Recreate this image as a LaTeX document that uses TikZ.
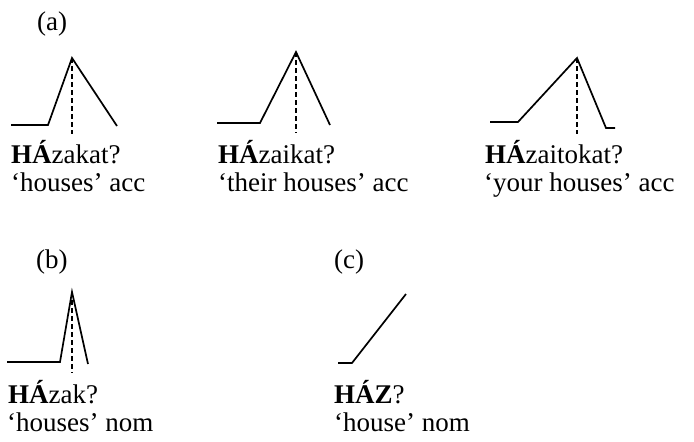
\documentclass[tikz,border=0pt]{standalone}
\usepackage{fontspec}
\setmainfont{Liberation Serif}
\begin{document}
\begin{tikzpicture}[x=1pt,y=-1pt,
  pitch/.style={line width=1.7pt, line join=miter},
  guide/.style={line width=1.5pt, dash pattern=on 4.5pt off 3.5pt},
  word/.style={inner sep=0pt, anchor=base west, font=\fontsize{27}{30}\selectfont}]
\useasboundingbox (0,0) rectangle (694,442);

% ---- (a) accusative forms ----
\node[word] (la) at (37,30) {(a)};

% HAzakat?
\coordinate (a1s) at (11,125);
\coordinate (a1k) at (48,125);
\coordinate (a1p) at (72,58);
\coordinate (a1e) at (117,126);
\coordinate (a1f) at (72,134);
\draw[pitch] (a1s) -- (a1k) -- (a1p) -- (a1e);
\draw[guide] (a1p) -- (a1f);
\node[word] (a1w) at (11,163) {\textbf{HÁ}zakat?};
\node[word] (a1g) at (11,191) {‘houses’ acc};

% HAzaikat?
\coordinate (a2s) at (217,123);
\coordinate (a2k) at (260,123);
\coordinate (a2p) at (296,52);
\coordinate (a2e) at (330,125);
\coordinate (a2f) at (296,133);
\draw[pitch] (a2s) -- (a2k) -- (a2p) -- (a2e);
\draw[guide] (a2p) -- (a2f);
\node[word] (a2w) at (218,163) {\textbf{HÁ}zaikat?};
\node[word] (a2g) at (218,191) {‘their houses’ acc};

% HAzaitokat?
\coordinate (a3s) at (490,122);
\coordinate (a3k) at (518,122);
\coordinate (a3p) at (577,58);
\coordinate (a3e) at (606,128);
\coordinate (a3t) at (615,128);
\coordinate (a3f) at (577,134);
\draw[pitch] (a3s) -- (a3k) -- (a3p) -- (a3e) -- (a3t);
\draw[guide] (a3p) -- (a3f);
\node[word] (a3w) at (485,163) {\textbf{HÁ}zaitokat?};
\node[word] (a3g) at (484,191) {‘your houses’ acc};

% ---- (b) nominative plural ----
\node[word] (lb) at (36,268) {(b)};
\coordinate (bs) at (7,362);
\coordinate (bk) at (60,362);
\coordinate (bp) at (72,292);
\coordinate (be) at (88,364);
\coordinate (bf) at (72,373);
\draw[pitch] (bs) -- (bk) -- (bp) -- (be);
\draw[guide] (bp) -- (bf);
\node[word] (bw) at (8,403) {\textbf{HÁ}zak?};
\node[word] (bg) at (7,431) {‘houses’ nom};

% ---- (c) nominative singular ----
\node[word] (lc) at (334,268) {(c)};
\coordinate (cs) at (338,363);
\coordinate (ck) at (352,363);
\coordinate (ct) at (406,294);
\draw[pitch] (cs) -- (ck) -- (ct);
\node[word] (cw) at (334,403) {\textbf{HÁZ}?};
\node[word] (cg) at (334,431) {‘house’ nom};
\end{tikzpicture}
\end{document}
